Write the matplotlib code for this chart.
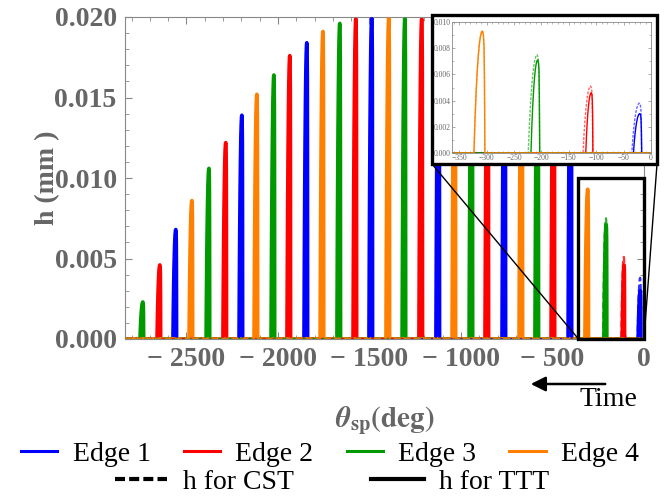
import numpy as np
import matplotlib
matplotlib.use("Agg")
import matplotlib.pyplot as plt
from matplotlib.lines import Line2D
from matplotlib.patches import Rectangle, ConnectionPatch, FancyArrowPatch
from matplotlib.ticker import MultipleLocator

plt.rcParams['font.family'] = ['Liberation Serif', 'DejaVu Serif']
plt.rcParams['mathtext.fontset'] = 'stix'

# spike data (angles in deg, h in mm)
edge_seq = [3, 2, 1, 4] * 7 + [3, 2, 1]
theta_on_ttt = [-2754, -2661, -2574, -2486, -2393, -2301, -2213, -2131, -2038, -1951,
                -1858, -1770, -1678, -1590, -1503, -1410, -1322, -1230, -1137, -1049,
                -956, -869, -776, -683, -596, -508, -415, -323, -219, -119, -32]
theta_on_cst = theta_on_ttt[:-3] + [-224, -124, -35]
theta_off = [t + 20 for t in theta_on_ttt[:-3]] + [-203, -106, -17]
h_ttt = [0.0023, 0.0046, 0.0068, 0.0086, 0.0106, 0.0122, 0.0139, 0.0152, 0.0164, 0.0176,
         0.0184, 0.0191, 0.0196, 0.0199, 0.0200, 0.0200, 0.0200, 0.0199, 0.0200, 0.0200,
         0.0200, 0.0200, 0.0200, 0.0200, 0.0200, 0.0200, 0.0200, 0.0093, 0.0071, 0.0046, 0.0030]
h_cst = h_ttt[:-3] + [0.0075, 0.0051, 0.0038]

# normalised spike profile (fraction of width, fraction of peak)
prof_u = [0, 0.1, 0.2, 0.3, 0.4, 0.5, 0.6, 0.7, 0.78, 0.86, 0.92, 0.96, 1.0]
prof_v = [0, 0.28, 0.5, 0.67, 0.8, 0.9, 0.96, 0.995, 1.0, 0.97, 0.88, 0.6, 0]

edge_names = ['Edge 1', 'Edge 2', 'Edge 3', 'Edge 4']
edge_colors = {1: '#0000ff', 2: '#ff0000', 3: '#009a00', 4: '#ff8000'}
x_min = -2836

gray = '#666666'


def edge_curve(edge, on, off, h):
    xs, ys = [x_min], [0.0]
    for e, a, b, hh in zip(edge_seq, on, off, h):
        if e != edge:
            continue
        xs += list(a + np.array(prof_u) * (b - a))
        ys += list(np.array(prof_v) * hh)
    xs.append(0)
    ys.append(0.0)
    return np.array(xs), np.array(ys)


fig = plt.figure(figsize=(6.64, 4.96), dpi=100)
ax = fig.add_axes([125 / 664, 1 - 339 / 496, 519 / 664, 322 / 496])

for e in [1, 2, 3, 4]:
    x, y = edge_curve(e, theta_on_ttt, theta_off, h_ttt)
    ax.plot(x, y, color=edge_colors[e], lw=2.6, zorder=2)
for e in [1, 2, 3, 4]:
    x, y = edge_curve(e, theta_on_cst, theta_off, h_cst)
    ax.plot(x, y, color=edge_colors[e], lw=1.6, ls=(0, (3, 1.5)), alpha=0.8, zorder=3)

ax.set_xlim(x_min, 0)
ax.set_ylim(0, 0.020)
ax.xaxis.set_major_locator(MultipleLocator(500))
ax.xaxis.set_minor_locator(MultipleLocator(100))
ax.yaxis.set_major_locator(MultipleLocator(0.005))
ax.yaxis.set_minor_locator(MultipleLocator(0.001))
ax.yaxis.set_major_formatter(plt.FuncFormatter(lambda v, p: f'{v:.3f}'))
ax.xaxis.set_major_formatter(plt.FuncFormatter(lambda v, p: f'{v:.0f}'.replace('-', '\u2212 ')))
ax.tick_params(which='both', direction='in', top=True, right=True, color='#888888',
               labelcolor=gray, labelsize=20, pad=6)
ax.tick_params(which='major', length=5, width=0.8)
ax.tick_params(which='minor', length=3, width=0.6)
for lab in ax.get_xticklabels() + ax.get_yticklabels():
    lab.set_fontweight('bold')
for s in ax.spines.values():
    s.set_color('#888888')
    s.set_linewidth(0.8)

ax.set_ylabel('h (mm )', color=gray, fontsize=20, fontweight='bold', labelpad=-4)
ax.set_xlabel(r'$\boldsymbol{\theta}_{\mathbf{sp}}\mathbf{(deg)}$', color=gray,
              fontsize=21, labelpad=23)

# zoom box
box_x0 = -358
ax.add_patch(Rectangle((box_x0, 0), -box_x0, 0.0100, fill=False, ec='black', lw=2.4,
                       zorder=5, clip_on=False))

# inset frame
frame = Rectangle((432 / 664, 1 - 164 / 496), 225 / 664, 149 / 496, transform=fig.transFigure,
                  fc='white', ec='black', lw=2.4, zorder=6)
fig.add_artist(frame)
for fx, dx in [(432 / 664, box_x0), (657 / 664, 0)]:
    con = ConnectionPatch(xyA=(fx, 1 - 164 / 496), coordsA='figure fraction',
                          xyB=(dx, 0), coordsB=ax.transData, color='black', lw=1.0, zorder=4)
    fig.add_artist(con)

ins = fig.add_axes([452 / 664, 1 - 153 / 496, 199 / 664, 131 / 496], zorder=7)
for e in [1, 2, 3, 4]:
    x, y = edge_curve(e, theta_on_ttt, theta_off, h_ttt)
    ins.plot(x, y, color=edge_colors[e], lw=1.0)
    x, y = edge_curve(e, theta_on_cst, theta_off, h_cst)
    ins.plot(x, y, color=edge_colors[e], lw=1.0, ls=(0, (2, 1)), alpha=0.6)
ins.set_xlim(-363, 0)
ins.set_ylim(0, 0.010)
ins.xaxis.set_major_locator(MultipleLocator(50))
ins.xaxis.set_minor_locator(MultipleLocator(10))
ins.yaxis.set_major_locator(MultipleLocator(0.002))
ins.yaxis.set_minor_locator(MultipleLocator(0.001))
ins.yaxis.set_major_formatter(plt.FuncFormatter(lambda v, p: f'{v:.3f}'))
ins.xaxis.set_major_formatter(plt.FuncFormatter(lambda v, p: f'{v:.0f}'.replace('-', '\u2212')))
ins.tick_params(which='both', direction='in', top=True, right=True, color='#888888',
                labelcolor=gray, labelsize=5.5, pad=1)
ins.tick_params(which='major', length=2.5, width=0.5)
ins.tick_params(which='minor', length=1.5, width=0.4)
for s in ins.spines.values():
    s.set_color('#888888')
    s.set_linewidth(0.6)

# time arrow
fig.add_artist(FancyArrowPatch((608 / 664, 112 / 496), (528 / 664, 112 / 496),
                               transform=fig.transFigure, arrowstyle='-|>',
                               mutation_scale=22, lw=1.8, color='black'))
fig.text(608 / 664, 96 / 496, 'Time', ha='center', va='center', fontsize=20, color='black')

# legends
h1 = [Line2D([], [], color=edge_colors[i + 1], lw=2.2) for i in range(4)]
fig.legend(h1, edge_names, loc='center', bbox_to_anchor=(0.497, 0.085), ncol=4,
           frameon=False, fontsize=20, handlelength=1.3, handletextpad=0.55,
           columnspacing=1.2, borderpad=0, borderaxespad=0)
h2 = [Line2D([], [], color='black', lw=3, ls=(0, (2.4, 1.0))), Line2D([], [], color='black', lw=3)]
fig.legend(h2, ['h for CST', 'h for TTT'], loc='center', bbox_to_anchor=(0.5, 0.028), ncol=2,
           frameon=False, fontsize=20, handlelength=1.9, handletextpad=0.55,
           columnspacing=2.8, borderpad=0, borderaxespad=0)

fig.savefig('out.png', dpi=100)
